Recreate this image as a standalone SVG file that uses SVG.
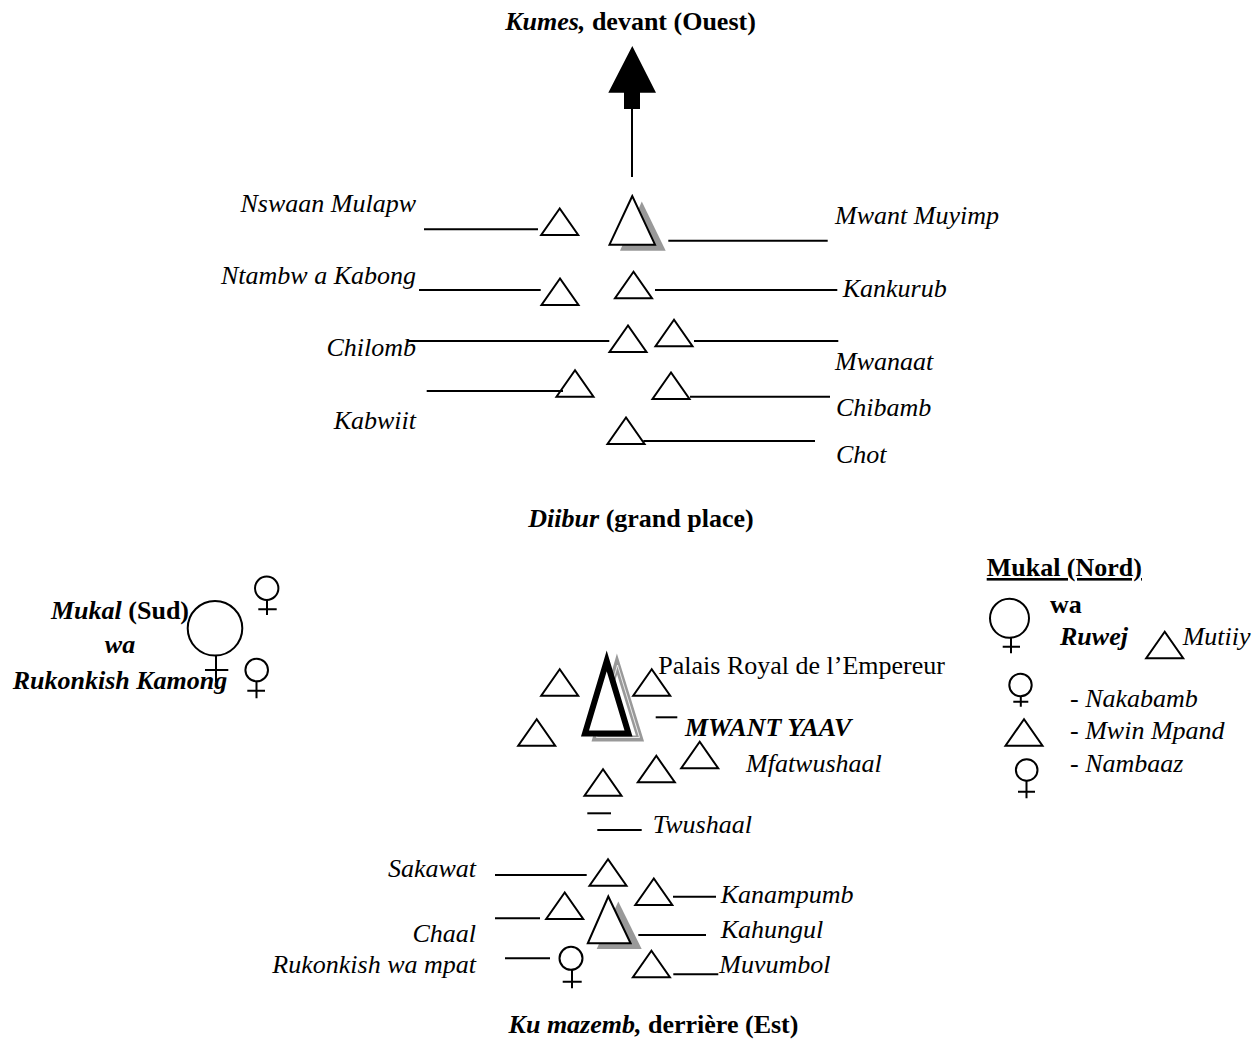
<svg xmlns="http://www.w3.org/2000/svg" xmlns:xlink="http://www.w3.org/1999/xlink" width="1260" height="1039" viewBox="0 0 1260 1039">
<style>
text { font-family: "Liberation Serif", "Times New Roman", serif; font-size: 26px; fill: #000; }
.i { font-style: italic; }
.b { font-weight: bold; }
.bi { font-weight: bold; font-style: italic; }
.tri { fill: none; stroke: #000; stroke-width: 2; }
.trif { fill: #fff; stroke: #000; stroke-width: 2; }
.shadow { fill: #999; stroke: none; }
.fem { fill: none; stroke: #000; stroke-width: 2; }
.conn line { stroke: #000; stroke-width: 2; }
</style>
<defs>
<path id="tri" class="tri" d="M0,-27.5 L-18.5,-1 L18.5,-1 Z"/>
</defs>
<rect width="1260" height="1039" fill="#fff"/>

<g id="titles">
<text x="630.5" y="30" text-anchor="middle" class="b"><tspan class="bi">Kumes,</tspan> devant (Ouest)</text>
<text x="641" y="527" text-anchor="middle" class="b"><tspan class="bi">Diibur</tspan> (grand place)</text>
<text x="653.5" y="1033" text-anchor="middle" class="b"><tspan class="bi">Ku mazemb,</tspan> derrière (Est)</text>
</g>

<g id="connectors" class="conn">
<path d="M632.3,46 L656,92.7 L640,92.7 L640,109 L624,109 L624,92.7 L608.3,92.7 Z" fill="#000"/>
<line x1="632" y1="108" x2="632" y2="177"/>
<line x1="424" y1="229.3" x2="538" y2="229.3"/>
<line x1="668.3" y1="240.7" x2="827.7" y2="240.7"/>
<line x1="419" y1="290" x2="540.7" y2="290"/>
<line x1="655" y1="290" x2="837.3" y2="290"/>
<line x1="406.7" y1="341" x2="609.3" y2="341"/>
<line x1="694" y1="341" x2="838.3" y2="341"/>
<line x1="426.7" y1="391" x2="563" y2="391"/>
<line x1="690" y1="396.7" x2="830" y2="396.7"/>
<line x1="643.3" y1="441" x2="815" y2="441"/>
<line x1="655.7" y1="717.3" x2="677.3" y2="717.3"/>
<line x1="587.3" y1="813.3" x2="611" y2="813.3"/>
<line x1="597.3" y1="830" x2="641.7" y2="830"/>
<line x1="495" y1="875" x2="586.7" y2="875"/>
<line x1="673" y1="896.7" x2="716" y2="896.7"/>
<line x1="495" y1="918.3" x2="540" y2="918.3"/>
<line x1="638.3" y1="935" x2="706" y2="935"/>
<line x1="505" y1="958.3" x2="550" y2="958.3"/>
<line x1="673.3" y1="974.3" x2="718.3" y2="974.3"/>
</g>

<!-- Upper section -->
<g id="nswaan-mulapw"><use xlink:href="#tri" x="559.7" y="236"/><text x="416" y="212.3" text-anchor="end" class="i">Nswaan Mulapw</text></g>
<g id="mwant-muyimp">
<polygon class="shadow" points="641.8,201.5 665.7,250.7 620,250.7"/>
<polygon class="trif" points="632.3,196 609.5,244.7 655,244.7"/>
<text x="835" y="224.3" class="i">Mwant Muyimp</text></g>
<g id="ntambw-a-kabong"><use xlink:href="#tri" x="560" y="306"/><text x="416" y="284.3" text-anchor="end" class="i">Ntambw a Kabong</text></g>
<g id="kankurub"><use xlink:href="#tri" x="633.5" y="299.3"/><text x="842.7" y="297.3" class="i">Kankurub</text></g>
<g id="chilomb"><use xlink:href="#tri" x="628" y="353"/><text x="416" y="356" text-anchor="end" class="i">Chilomb</text></g>
<g id="mwanaat"><use xlink:href="#tri" x="674" y="347.3"/><text x="835" y="370" class="i">Mwanaat</text></g>
<g id="kabwiit"><use xlink:href="#tri" x="575" y="397.7"/><text x="416" y="429.3" text-anchor="end" class="i">Kabwiit</text></g>
<g id="chibamb"><use xlink:href="#tri" x="671" y="400"/><text x="836" y="416" class="i">Chibamb</text></g>
<g id="chot"><use xlink:href="#tri" x="626" y="445"/><text x="836" y="462.7" class="i">Chot</text></g>

<!-- Mukal Sud -->
<g id="mukal-sud">
<circle class="fem" cx="215" cy="628.3" r="27.3"/>
<path class="fem" d="M216,655.6 V682 M205,670 H228.3"/>
<text x="120" y="619" text-anchor="middle"><tspan class="bi">Mukal</tspan><tspan class="b"> (Sud)</tspan></text>
<text x="120" y="652.7" text-anchor="middle" class="bi">wa</text>
<text x="120" y="689.3" text-anchor="middle" class="bi">Rukonkish Kamong</text>
</g>
<g id="sud-female-1"><circle class="fem" cx="266.7" cy="588.3" r="11.7"/><path class="fem" d="M267,600 V615 M258.3,609.3 H276.7"/></g>
<g id="sud-female-2"><circle class="fem" cx="256.7" cy="670" r="11.3"/><path class="fem" d="M256.5,681.3 V698.3 M247.3,690.7 H265"/></g>

<!-- Palace -->
<g id="palais">
<polygon points="617,664 595.5,738.5 640,738.5" fill="none" stroke="#999" stroke-width="6"/>
<polygon points="617.5,665 596.5,737.5 639.5,737.5" fill="none" stroke="#fff" stroke-width="0.8"/>
<polygon points="606.7,661 585,733.5 628.5,733.5" fill="#fff" stroke="#000" stroke-width="6"/>
<text x="658.3" y="674.3">Palais Royal de l’Empereur</text>
<text x="685" y="736" class="bi">MWANT YAAV</text>
</g>
<g id="palace-tri-1"><use xlink:href="#tri" x="559.7" y="696.7"/></g>
<g id="palace-tri-2"><use xlink:href="#tri" x="651.7" y="696.7"/></g>
<g id="palace-tri-3"><use xlink:href="#tri" x="536.7" y="746.7"/></g>
<g id="palace-tri-4"><use xlink:href="#tri" x="603" y="796.7"/></g>
<g id="palace-tri-5"><use xlink:href="#tri" x="656.3" y="783.3"/></g>
<g id="mfatwushaal"><use xlink:href="#tri" x="699.7" y="769.3"/><text x="746" y="771.7" class="i">Mfatwushaal</text></g>
<g id="twushaal"><text x="652.7" y="833.3" class="i">Twushaal</text></g>

<!-- Mukal Nord legend -->
<g id="mukal-nord">
<text x="986.7" y="576" class="b" text-decoration="underline">Mukal (Nord)</text>
<circle class="fem" cx="1009.5" cy="618.3" r="19.5"/>
<path class="fem" d="M1011,637.8 V653.3 M1002.7,646.7 H1020"/>
<text x="1050" y="612.7" class="b">wa</text>
<text x="1060" y="645" class="bi">Ruwej</text>
</g>
<g id="mutiiy"><use xlink:href="#tri" x="1164.7" y="659.3"/><text x="1182.7" y="645" class="i">Mutiiy</text></g>
<g id="nakabamb"><circle class="fem" cx="1020.5" cy="685" r="11.2"/><path class="fem" d="M1020.8,696.2 V706.7 M1013.3,701.7 H1028.3"/><text x="1070" y="706.7">- <tspan class="i">Nakabamb</tspan></text></g>
<g id="mwin-mpand"><use xlink:href="#tri" x="1024" y="746.7"/><text x="1070" y="739.3">- <tspan class="i">Mwin Mpand</tspan></text></g>
<g id="nambaaz"><circle class="fem" cx="1026.7" cy="770" r="10.8"/><path class="fem" d="M1026.5,780.8 V798.3 M1018,791.7 H1035"/><text x="1070" y="771.7">- <tspan class="i">Nambaaz</tspan></text></g>

<!-- Lower section -->
<g id="sakawat"><use xlink:href="#tri" x="608" y="886.7"/><text x="476" y="877.3" text-anchor="end" class="i">Sakawat</text></g>
<g id="kanampumb"><use xlink:href="#tri" x="653.8" y="906"/><text x="720.7" y="903.3" class="i">Kanampumb</text></g>
<g id="chaal"><use xlink:href="#tri" x="564.7" y="920"/><text x="476" y="941.7" text-anchor="end" class="i">Chaal</text></g>
<g id="kahungul">
<polygon class="shadow" points="618.3,901.5 641.7,949 596.7,949"/>
<polygon class="trif" points="608.3,896.5 587.8,943.3 630.6,943.3"/>
<text x="720.7" y="937.7" class="i">Kahungul</text></g>
<g id="rukonkish-wa-mpat"><circle class="fem" cx="571" cy="958.3" r="11.5"/><path class="fem" d="M572,969.8 V988.3 M562.7,981.7 H581.7"/><text x="476" y="973.3" text-anchor="end" class="i">Rukonkish wa mpat</text></g>
<g id="muvumbol"><use xlink:href="#tri" x="651.4" y="978.3"/><text x="719.3" y="973.3" class="i">Muvumbol</text></g>
</svg>
